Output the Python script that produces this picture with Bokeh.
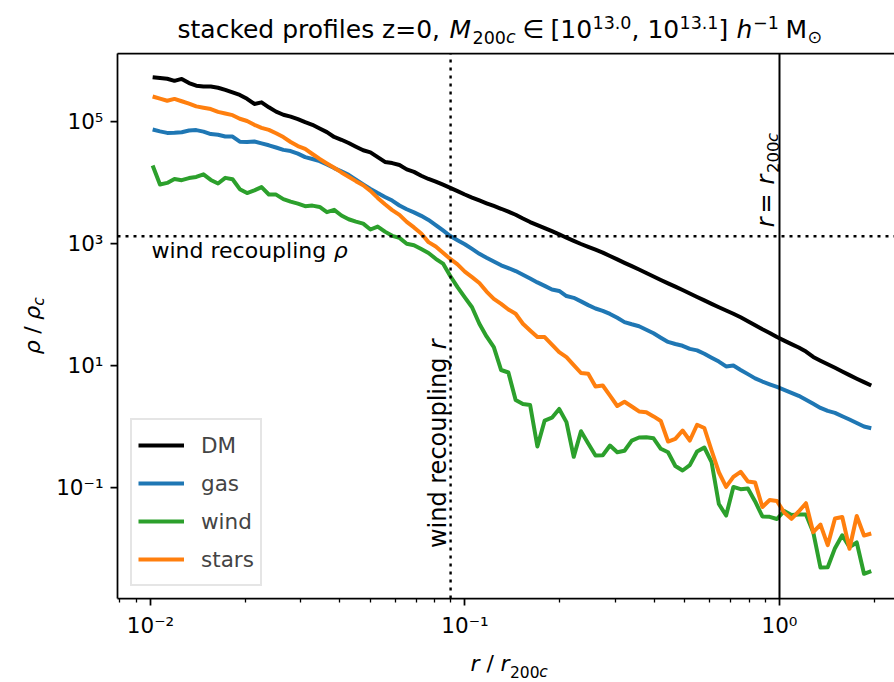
import math
from bokeh.plotting import figure
from bokeh.models import (Range1d, FixedTicker, LogAxis, Label,
                          CustomJSTickFormatter)
from bokeh.embed import file_html
from bokeh.resources import INLINE

# ---------------- data ----------------
r = [0.01016, 0.01072, 0.01130, 0.01192, 0.01257, 0.01326, 0.01398, 0.01474, 0.01555, 0.01640,
     0.01729, 0.01824, 0.01923, 0.02028, 0.02139, 0.02255, 0.02379, 0.02508, 0.02645, 0.02790,
     0.02942, 0.03103, 0.03272, 0.03451, 0.03639, 0.03837, 0.04047, 0.04267, 0.04500, 0.04746,
     0.05005, 0.05278, 0.05566, 0.05869, 0.06190, 0.06527, 0.06884, 0.07259, 0.07655, 0.08073,
     0.08514, 0.08978, 0.09468, 0.09987, 0.1053, 0.1111, 0.1171, 0.1235, 0.1303, 0.1374,
     0.1449, 0.1528, 0.1611, 0.1699, 0.1792, 0.1890, 0.1993, 0.2102, 0.2217, 0.2338,
     0.2465, 0.2600, 0.2742, 0.2891, 0.3049, 0.3215, 0.3391, 0.3576, 0.3771, 0.3977,
     0.4194, 0.4423, 0.4664, 0.4919, 0.5187, 0.5470, 0.5768, 0.6083, 0.6415, 0.6765,
     0.7134, 0.7523, 0.7934, 0.8367, 0.8823, 0.9306, 0.9815, 1.0350, 1.0915, 1.1510,
     1.2139, 1.2801, 1.3499, 1.4235, 1.5012, 1.5831, 1.6694, 1.7605, 1.8566, 1.9578]

rho_dm = [5.33e5, 5.17e5, 5.02e5, 4.64e5, 5.0e5, 4.28e5, 3.87e5, 3.75e5, 3.74e5, 3.58e5,
          3.3e5, 3.0e5, 2.73e5, 2.36e5, 1.94e5, 2.06e5, 1.71e5, 1.45e5, 1.29e5, 1.2e5,
          1.09e5, 9.74e4, 8.83e4, 7.68e4, 6.7e4, 5.57e4, 5.01e4, 4.44e4, 3.86e4, 3.37e4,
          3.12e4, 2.61e4, 2.17e4, 2.08e4, 1.93e4, 1.64e4, 1.49e4, 1.29e4, 1.14e4, 1.03e4,
          9190, 8170, 7210, 6340, 5640, 5060, 4550, 4110, 3700, 3310,
          2950, 2560, 2240, 2000, 1780, 1590, 1410, 1240, 1100, 977,
          876, 788, 707, 621, 546, 480, 424, 373, 327, 287,
          251, 221, 195, 172, 151, 132, 116, 102, 89.8, 79.3,
          70.0, 61.3, 52.9, 45.3, 39.1, 34.0, 29.1, 25.4, 22.3, 19.6,
          16.8, 13.7, 11.9, 10.4, 9.1, 7.91, 6.9, 6.03, 5.3, 4.66]

rho_gas = [7.39e4, 6.88e4, 6.5e4, 6.53e4, 6.68e4, 7.12e4, 7.23e4, 6.83e4, 6.21e4, 6.07e4,
           5.67e4, 5.65e4, 4.66e4, 4.63e4, 4.7e4, 4.37e4, 4.07e4, 3.74e4, 3.42e4, 3.27e4,
           2.97e4, 2.6e4, 2.42e4, 2.24e4, 1.98e4, 1.72e4, 1.52e4, 1.33e4, 1.11e4, 9290,
           7840, 6710, 5790, 5040, 4190, 3630, 3230, 2830, 2430, 2000,
           1630, 1320, 1130, 970, 812, 675, 580, 503, 437, 393,
           352, 306, 265, 229, 201, 175, 166, 137, 128, 112,
           97.2, 85.5, 78.4, 69.7, 60.2, 51.1, 47.1, 43.8, 38.4, 33.6,
           28.4, 24.2, 22.4, 20.9, 18.6, 17.6, 15.5, 13.3, 11.5, 9.59,
           9.92, 8.4, 7.17, 6.1, 5.42, 4.88, 4.41, 3.96, 3.54, 3.16,
           2.72, 2.33, 2.0, 1.79, 1.66, 1.46, 1.29, 1.13, 0.99, 0.93]

rho_wind = [1.9e4, 9250, 9830, 1.14e4, 1.09e4, 1.18e4, 1.23e4, 1.36e4, 1.1e4, 9610,
            1.19e4, 1.13e4, 7750, 6690, 7410, 8390, 6340, 6320, 5330, 4850,
            4500, 4080, 4170, 3960, 3260, 3550, 2870, 2490, 2280, 2110,
            1690, 1890, 1560, 1330, 1230, 985, 934, 806, 696, 559,
            466, 292, 192, 130, 89.8, 48.1, 29.8, 19.8, 8.37, 7.62,
            2.7, 2.32, 2.23, 0.465, 1.24, 1.38, 1.92, 1.17, 0.315, 0.83,
            0.521, 0.331, 0.335, 0.483, 0.375, 0.396, 0.583, 0.654, 0.661, 0.634,
            0.427, 0.375, 0.223, 0.188, 0.23, 0.385, 0.448, 0.257, 0.053, 0.0343,
            0.101, 0.0927, 0.0952, 0.0583, 0.0331, 0.0327, 0.0301, 0.0407, 0.035, 0.0357,
            0.0357, 0.0183, 0.00481, 0.00487, 0.01, 0.0163, 0.0104, 0.0124, 0.0038, 0.00419]

rho_stars = [2.57e5, 2.37e5, 2.19e5, 2.35e5, 2.15e5, 1.97e5, 1.77e5, 1.68e5, 1.6e5, 1.44e5,
             1.35e5, 1.27e5, 1.11e5, 1.02e5, 8.83e4, 7.88e4, 7.28e4, 6.4e4, 5.55e4, 4.61e4,
             3.95e4, 3.55e4, 2.93e4, 2.43e4, 2.05e4, 1.74e4, 1.46e4, 1.24e4, 1.05e4, 9010,
             7290, 5580, 4380, 3520, 2940, 2250, 1830, 1450, 1050, 890,
             701, 555, 454, 345, 280, 224, 162, 123, 102, 82.3,
             70.0, 48.0, 37.2, 29.1, 29.1, 21.9, 16.4, 13.6, 10.1, 7.48,
             7.25, 4.49, 4.66, 3.19, 2.15, 2.52, 2.11, 1.75, 1.7, 1.45,
             1.22, 0.562, 0.622, 0.852, 0.583, 1.06, 0.936, 0.4, 0.176, 0.101,
             0.148, 0.179, 0.124, 0.119, 0.0473, 0.0617, 0.0594, 0.0385, 0.0303, 0.0399,
             0.0546, 0.0183, 0.0244, 0.0112, 0.0306, 0.0324, 0.00976, 0.0337, 0.0161, 0.0174]

series_names = ["DM", "gas", "wind", "stars"]
series_colors = ["black", "#1f77b4", "#2ca02c", "#ff7f0e"]

R_WIND = 0.09        # wind recoupling radius (r / r200c)
RHO_WIND = 1.31e3    # wind recoupling density (rho / rho_c)
R_200C = 1.0

X_LO, X_HI = 0.007855, 2.321      # visible axis limits
Y_LO, Y_HI = 1.493e-3, 1.305e6

x_major = [0.01, 0.1, 1.0]
x_minor = [0.008, 0.009, 0.02, 0.03, 0.04, 0.05, 0.06, 0.07, 0.08, 0.09,
           0.2, 0.3, 0.4, 0.5, 0.6, 0.7, 0.8, 0.9, 2.0]
y_major = [1e-1, 1e1, 1e3, 1e5]

# ---------------- geometry ----------------
W, H = 894, 682
AX_L, AX_R, AX_T, AX_B = 117, 894, 53, 598   # axes box on the canvas (px)

lx0, lx1 = math.log10(X_LO), math.log10(X_HI)
kx = (lx1 - lx0) / (AX_R - AX_L)
ly0, ly1 = math.log10(Y_LO), math.log10(Y_HI)
ky = (ly1 - ly0) / (AX_B - AX_T)
x_range = Range1d(10 ** (lx0 - AX_L * kx), 10 ** (lx1 + (W - AX_R) * kx))
y_range = Range1d(10 ** (ly0 - (H - AX_B) * ky), 10 ** (ly1 + AX_T * ky))

FONT = "DejaVu Sans"
FS = 21.5      # tick / legend
FT = 25        # title

p = figure(width=W, height=H, x_axis_type="log", y_axis_type="log",
           x_axis_location=None, y_axis_location=None,
           x_range=x_range, y_range=y_range,
           output_backend="svg", toolbar_location=None,
           min_border=0, min_border_left=0, min_border_right=0,
           min_border_top=0, min_border_bottom=0)
p.title.visible = False
p.outline_line_color = None
p.grid.visible = False
p.background_fill_color = "white"
p.border_fill_color = "white"

sup_code = """
const sup = {"-": "\\u207b", "0": "\\u2070", "1": "\\u00b9", "2": "\\u00b2", "3": "\\u00b3",
             "4": "\\u2074", "5": "\\u2075", "6": "\\u2076", "7": "\\u2077", "8": "\\u2078", "9": "\\u2079"};
const e = Math.round(Math.log10(tick));
return "10" + String(e).split("").map(c => sup[c]).join("");
"""


def style_axis(ax):
    ax.axis_line_width = 1.75
    ax.axis_line_color = "black"
    ax.major_tick_in = 0
    ax.major_tick_out = 7
    ax.major_tick_line_width = 1.75
    ax.minor_tick_in = 0
    ax.minor_tick_out = 4
    ax.minor_tick_line_width = 1.3
    ax.major_label_text_font = FONT
    ax.major_label_text_font_size = f"{FS}px"
    ax.major_label_text_color = "black"
    ax.major_label_standoff = 7
    ax.formatter = CustomJSTickFormatter(code=sup_code)


xax = LogAxis(fixed_location=Y_LO, bounds=(X_LO, X_HI),
              ticker=FixedTicker(ticks=x_major, minor_ticks=x_minor))
style_axis(xax)
p.add_layout(xax, "below")

yax = LogAxis(fixed_location=X_LO, bounds=(Y_LO, Y_HI),
              ticker=FixedTicker(ticks=y_major, minor_ticks=[]))
style_axis(yax)
p.add_layout(yax, "left")

tax = LogAxis(fixed_location=Y_HI, bounds=(X_LO, X_HI),
              ticker=FixedTicker(ticks=[], minor_ticks=[]),
              axis_line_width=1.75, axis_line_color="black",
              major_tick_out=0, minor_tick_out=0,
              major_label_text_font_size="0px")
p.add_layout(tax, "above")

# ---------------- data lines ----------------
for name, col, vals in zip(series_names, series_colors,
                           [rho_dm, rho_gas, rho_wind, rho_stars]):
    p.line(r, vals, line_color=col, line_width=4, legend_label=name,
           line_join="round")

# reference lines (limited to the axes box)
p.segment(x0=[R_WIND], y0=[Y_LO], x1=[R_WIND], y1=[Y_HI], line_color="black",
          line_width=2.4, line_dash="3 5")
p.segment(x0=[X_LO], y0=[RHO_WIND], x1=[X_HI], y1=[RHO_WIND], line_color="black",
          line_width=2.4, line_dash="3 5")
p.segment(x0=[R_200C], y0=[Y_LO], x1=[R_200C], y1=[Y_HI], line_color="black",
          line_width=2.0)

# ---------------- legend ----------------
leg = p.legend[0]
leg.location = (130, H - 586)
leg.margin = 0
leg.padding = 6
leg.spacing = 0
leg.glyph_width = 46
leg.glyph_height = 38
leg.label_height = 38
leg.label_standoff = 17
leg.label_text_font = FONT
leg.label_text_font_size = f"{FS}px"
leg.border_line_color = "#cccccc"
leg.border_line_width = 2
leg.background_fill_color = "white"
leg.background_fill_alpha = 0.8


# ---------------- texts (canvas px, X/Y = wanted baseline start) ----------------
def txt(text, X, Y, size, style="normal", angle=0):
    shift = 0.31 * size          # Bokeh draws the alphabetic baseline ~0.31 em lower
    if angle == 0:
        Y = Y - shift
    else:
        X = X - shift
    p.add_layout(Label(x=X, y=H - Y, x_units="screen", y_units="screen",
                       text=text, text_font=FONT, text_font_size=f"{size}px",
                       text_font_style=style, text_color="black",
                       text_align="left", text_baseline="alphabetic",
                       angle=angle, angle_units="deg"))


# title
TB = 37
SS = 17.5
txt("stacked profiles z=0,", 177, TB, FT)
txt("M", 449, TB, FT, "italic")
txt("200", 472, TB + 5, SS)
txt("c", 505.4, TB + 5, SS, "italic")
txt("\u2208", 522, TB, FT)
txt("[10", 550, TB, FT)
txt("13.0", 592, TB - 10, SS)
txt(", 10", 631, TB, FT)
txt("13.1", 679, TB - 10, SS)
txt("]", 718, TB, FT)
txt("h", 736, TB, FT, "italic")
txt("\u22121", 752.5, TB - 10, SS)
txt("M", 785, TB, FT)
txt("\u2299", 807, TB + 5, SS)

# x label  r / r_200c
XB = 670
txt("r", 470, XB, 22, "italic")
txt("/", 486, XB, 22)
txt("r", 500, XB, 22, "italic")
txt("200", 509.5, XB + 6, 15.5)
txt("c", 538.8, XB + 6, 15.5, "italic")

# y label  rho / rho_c (rotated)
YX = 39
txt("\u03c1", YX, 353.7, 22, "italic", 90)
txt("/", YX, 333.3, 22, angle=90)
txt("\u03c1", YX, 319.2, 22, "italic", 90)
txt("c", YX + 4, 305.2, 15.5, "italic", 90)

# wind recoupling rho (horizontal)
FH = 22
txt("wind recoupling", 151, 256.6, FH)
txt("\u03c1", 151 + 8.283 * FH, 256.6, FH, "italic")

# wind recoupling r (rotated)
FR = 24
txt("wind recoupling", 445, 547.6, FR, angle=90)
txt("r", 445, 547.6 - 8.283 * FR, FR, "italic", 90)

# r = r_200c (rotated)
txt("r", 773, 226.7, FR, "italic", 90)
txt("=", 773, 213.0, FR, angle=90)
txt("r", 773, 184.0, FR, "italic", 90)
txt("200", 777.5, 172.5, 16.5, angle=90)
txt("c", 777.5, 141.5, 16.5, "italic", 90)

open("out.html", "w").write(file_html(p, INLINE))
